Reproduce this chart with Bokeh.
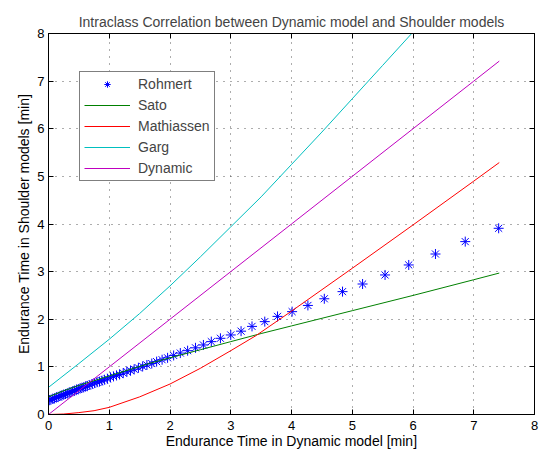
from bokeh.plotting import figure
from bokeh.models import LinearAxis, FixedTicker, Range1d, Legend
from bokeh.embed import file_html
from bokeh.resources import INLINE

# ---------------- data ----------------
ticks = [0, 1, 2, 3, 4, 5, 6, 7, 8]

rohmert_x = [7.41, 6.86, 6.37, 5.93, 5.54, 5.17, 4.84, 4.54, 4.27, 4.01, 3.77, 3.56,
             3.35, 3.17, 3.00, 2.83, 2.68, 2.55, 2.42, 2.29, 2.17, 2.06, 1.96, 1.87,
             1.78, 1.70, 1.62, 1.55, 1.48, 1.41, 1.35, 1.29, 1.23, 1.17, 1.12, 1.07,
             1.02, 0.97, 0.92, 0.88, 0.84, 0.80, 0.76, 0.72, 0.68, 0.64, 0.61, 0.58,
             0.55, 0.52, 0.49, 0.46, 0.43, 0.40, 0.37, 0.34, 0.31, 0.28, 0.25, 0.22,
             0.19, 0.16, 0.13, 0.10, 0.07, 0.04, 0.02]
rohmert_y = [3.91, 3.63, 3.37, 3.14, 2.93, 2.74, 2.58, 2.43, 2.29, 2.16, 2.06, 1.95,
             1.85, 1.75, 1.67, 1.60, 1.53, 1.46, 1.40, 1.34, 1.29, 1.24, 1.19, 1.15,
             1.11, 1.07, 1.04, 1.01, 0.98, 0.95, 0.92, 0.90, 0.87, 0.84, 0.82, 0.80,
             0.78, 0.75, 0.73, 0.71, 0.69, 0.68, 0.66, 0.64, 0.62, 0.60, 0.59, 0.57,
             0.56, 0.55, 0.53, 0.52, 0.50, 0.49, 0.47, 0.46, 0.44, 0.43, 0.42, 0.40,
             0.39, 0.37, 0.36, 0.34, 0.33, 0.31, 0.30]

sato_x = [0.0, 0.25, 0.5, 1.0, 1.68, 2.0, 2.5, 3.0, 3.5, 4.0, 5.0, 6.0, 7.0, 7.42]
sato_y = [0.37, 0.50, 0.61, 0.81, 1.08, 1.19, 1.36, 1.53, 1.70, 1.86, 2.18, 2.50, 2.83, 2.97]

math_x = [0.0, 0.25, 0.5, 0.75, 1.0, 1.5, 2.0, 2.5, 3.0, 3.42, 4.0, 5.0, 6.0, 7.0, 7.42]
math_y = [0.0, 0.01, 0.04, 0.08, 0.15, 0.37, 0.64, 0.97, 1.34, 1.66, 2.17, 3.07, 3.98, 4.90, 5.29]

garg_x = [0.0, 0.5, 1.0, 1.5, 2.0, 2.5, 3.0, 3.5, 4.0, 4.5, 5.0, 5.5, 6.0, 6.5]
garg_y = [0.57, 1.07, 1.58, 2.12, 2.70, 3.31, 3.94, 4.57, 5.25, 5.93, 6.63, 7.33, 8.03, 8.73]

dyn_x = [0.0, 1.0, 2.0, 3.0, 4.0, 5.0, 6.0, 7.0, 7.42]
dyn_y = [0.0, 1.0, 2.0, 3.0, 4.0, 5.0, 6.0, 7.0, 7.42]

title_text = "Intraclass Correlation between Dynamic model and Shoulder models"
x_label = "Endurance Time in Dynamic model [min]"
y_label = "Endurance Time in Shoulder models [min]"

FONT = "Liberation Sans"

p = figure(width=544, height=454, output_backend="svg", toolbar_location=None,
           x_range=Range1d(ticks[0], ticks[-1]), y_range=Range1d(ticks[0], ticks[-1]),
           min_border_left=48, min_border_right=10, min_border_top=33, min_border_bottom=40)

p.title.text = title_text
p.title.text_font = FONT
p.title.text_font_size = "14px"
p.title.text_font_style = "normal"
p.title.align = "center"
p.title.standoff = 7

p.outline_line_color = "black"
p.outline_line_width = 1
p.background_fill_color = "white"
p.border_fill_color = "white"

for ax in (p.xaxis[0], p.yaxis[0]):
    ax.ticker = FixedTicker(ticks=ticks)
    ax.major_tick_in = 5
    ax.major_tick_out = 0
    ax.minor_tick_line_color = None
    ax.axis_line_color = "black"
    ax.major_tick_line_color = "black"
    ax.major_label_text_font = FONT
    ax.major_label_text_font_size = "13px"
    ax.major_label_text_color = "black"
    ax.axis_label_text_font = FONT
    ax.axis_label_text_font_size = "14px"
    ax.axis_label_text_font_style = "normal"
    ax.axis_label_text_color = "black"

p.xaxis[0].axis_label = x_label
p.xaxis[0].major_label_standoff = 6
p.xaxis[0].axis_label_standoff = 0
p.yaxis[0].axis_label = y_label
p.yaxis[0].major_label_standoff = 4
p.yaxis[0].axis_label_standoff = 2

for loc in ("right", "above"):
    a = LinearAxis(ticker=FixedTicker(ticks=ticks))
    a.major_tick_in = 5
    a.major_tick_out = 0
    a.minor_tick_line_color = None
    a.major_label_overrides = {t: "" for t in ticks}
    a.major_label_text_color = None
    a.major_label_standoff = 0
    a.axis_line_color = "black"
    p.add_layout(a, loc)

for g in (p.xgrid[0], p.ygrid[0]):
    g.ticker = FixedTicker(ticks=ticks)
    g.grid_line_color = "#333333"
    g.grid_line_alpha = 0.8
    g.grid_line_dash = "1 6"
    g.grid_line_width = 1

r1 = p.scatter(rohmert_x, rohmert_y, marker="asterisk", size=10, line_color="#0000FF", line_width=1)
r2 = p.line(sato_x, sato_y, line_color="#008000", line_width=1)
r3 = p.line(math_x, math_y, line_color="#FF0000", line_width=1)
r4 = p.line(garg_x, garg_y, line_color="#00BFBF", line_width=1)
r5 = p.line(dyn_x, dyn_y, line_color="#BF00BF", line_width=1)

legend = Legend(items=[("Rohmert", [r1]), ("Sato", [r2]), ("Mathiassen", [r3]),
                       ("Garg", [r4]), ("Dynamic", [r5])],
                location=(31, 233))
legend.label_text_font = FONT
legend.label_text_font_size = "14px"
legend.label_height = 16
legend.glyph_height = 16
legend.glyph_width = 46
legend.label_standoff = 8
legend.spacing = 5
legend.padding = 4
legend.margin = 0
legend.border_line_color = "black"
legend.border_line_width = 1
legend.background_fill_color = "white"
legend.background_fill_alpha = 1.0
p.add_layout(legend, "center")

open("out.html", "w").write(file_html(p, INLINE))
